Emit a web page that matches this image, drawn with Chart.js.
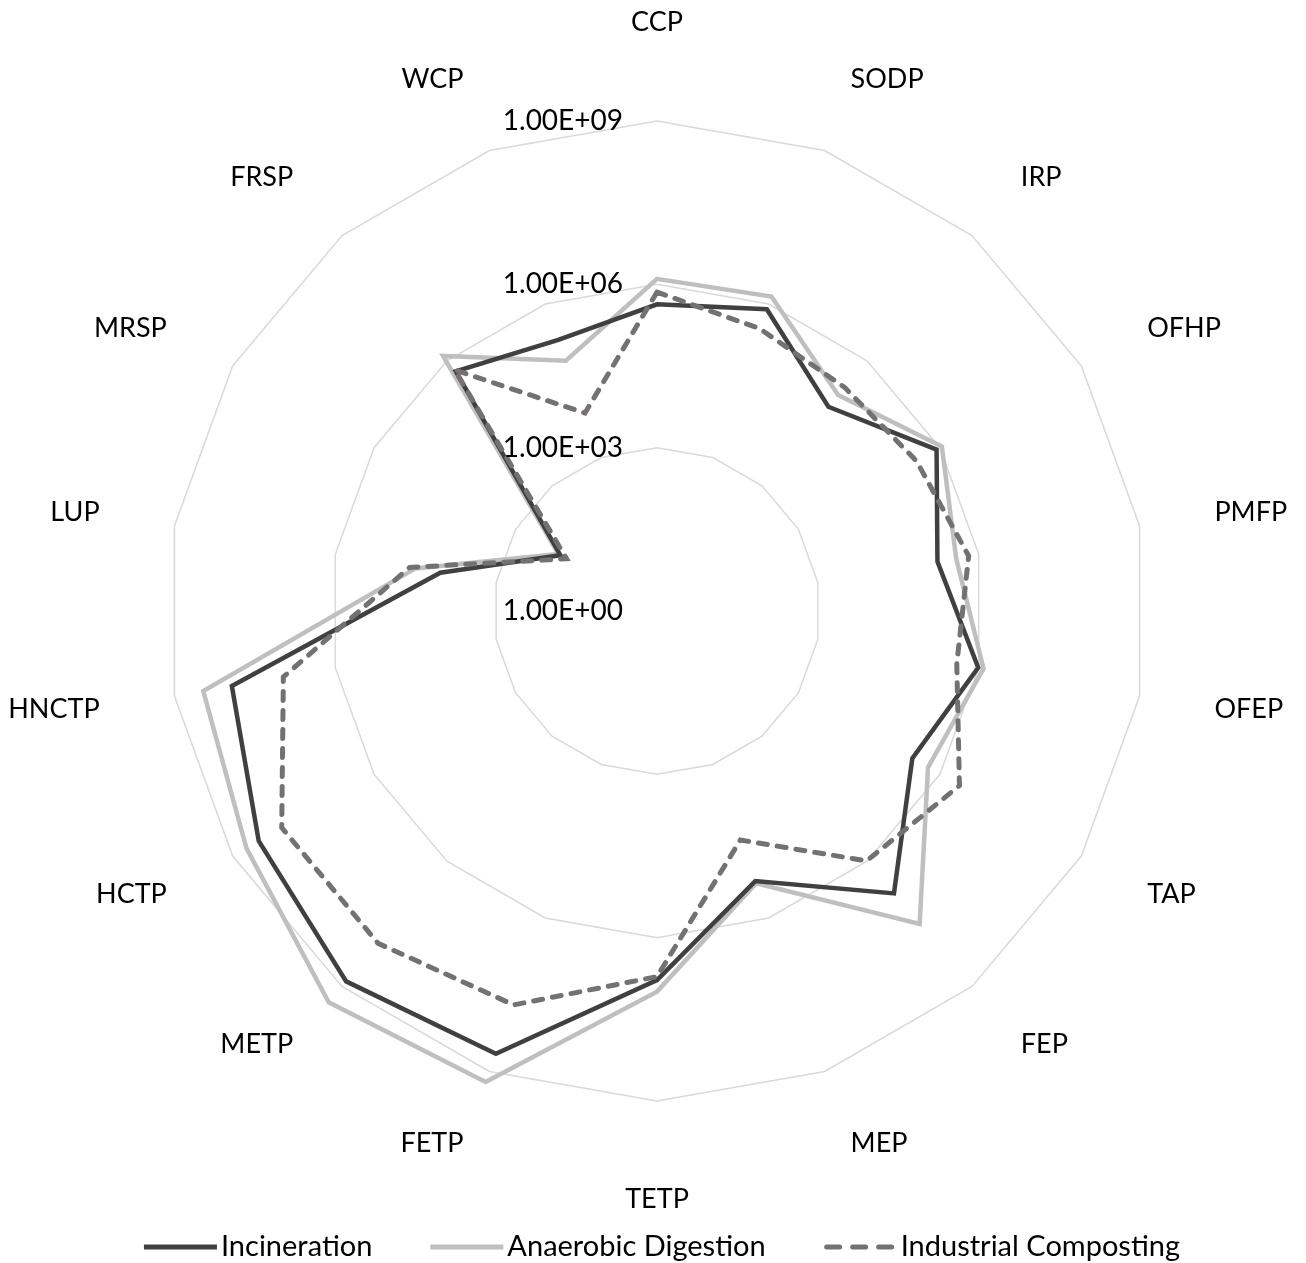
<!DOCTYPE html>
<html>
<head>
<meta charset="utf-8">
<script src="https://cdn.jsdelivr.net/npm/chart.js@4.4.1/dist/chart.umd.min.js"></script>
<style>
html,body{margin:0;padding:0;background:#ffffff;}
#wrap{width:1306px;height:1263px;position:relative;}
</style>
</head>
<body>
<div id="wrap"><canvas id="c" width="1306" height="1263"></canvas></div>
<script>
// ---- data (log-scaled radial axis) ----
const categories = ['CCP','SODP','IRP','OFHP','PMFP','OFEP','TAP','FEP','MEP','TETP','FETP','METP','HCTP','HNCTP','LUP','MRSP','FRSP','WCP'];
const seriesNames = ['Incineration','Anaerobic Digestion','Industrial Composting'];
const incineration = [4.3e5, 7.9e5, 7.9e4, 8.5e5, 1.7e5, 9.8e5, 2.6e5, 5.9e6, 1.9e5, 6.0e6, 4.5e8, 7.6e8, 2.8e8, 8.5e7, 1.1e4, 112, 5.6e5, 2.0e5];
const anaerobicDigestion = [1.26e6, 1.4e6, 1.5e5, 1.1e6, 3.8e5, 1.23e6, 5.6e5, 3.2e7, 2.1e5, 9.8e6, 1.6e9, 2.4e9, 5.1e8, 2.9e8, 3.2e4, 123, 1.3e6, 7.8e4];
const industrialComposting = [7.2e5, 3.3e5, 2.3e5, 3.2e5, 6.5e5, 3.9e5, 2.6e6, 9.8e5, 3.0e4, 5.2e6, 5.0e7, 9.3e7, 9.1e7, 9.3e6, 4.1e4, 83, 6.0e5, 7.4e3];
const tickValues = [1, 1e3, 1e6, 1e9];
const tickLabels = ['1.00E+00', '1.00E+03', '1.00E+06', '1.00E+09'];

const colors = ['#404040', '#bfbfbf', '#767171'];
const dashes = [[], [], [9, 10]];
const toLog = arr => arr.map(v => Math.log10(v));

const labelPlugin = {
  id: 'customLabels',
  afterDraw(chart) {
    const s = chart.scales.r;
    const ctx = chart.ctx;
    ctx.save();
    ctx.fillStyle = '#000000';
    // category labels
    ctx.font = '27px Lato';
    const n = categories.length;
    for (let i = 0; i < n; i++) {
      const deg = i * 360 / n;
      let d = s.drawingArea + 76, align;
      if (deg === 0) { d = s.drawingArea + 99; align = 'center'; }
      else if (deg === 180) { d = s.drawingArea + 98; align = 'center'; }
      else if (deg < 180) align = 'left';
      else align = 'right';
      const p = s.getPointPosition(i, d);
      ctx.textAlign = align;
      ctx.textBaseline = 'middle';
      ctx.fillText(categories[i], p.x, p.y);
    }
    // radial tick labels
    ctx.font = '28px Lato';
    ctx.textAlign = 'right';
    ctx.textBaseline = 'middle';
    tickValues.forEach((v, k) => {
      const y = s.yCenter - s.getDistanceFromCenterForValue(Math.log10(v));
      ctx.fillText(tickLabels[k], s.xCenter - 34, y);
    });
    // legend
    ctx.font = '29px Lato';
    const sample = 73, gapText = 4, gapItem = 58;
    const widths = seriesNames.map(t => ctx.measureText(t).width);
    const total = widths.reduce((a, w) => a + sample + gapText + w, 0) + gapItem * (seriesNames.length - 1);
    let x = 662 - total / 2;
    const y = 1247;
    chart.data.datasets.forEach((ds, k) => {
      ctx.save();
      ctx.strokeStyle = ds.borderColor;
      ctx.lineWidth = 5;
      ctx.lineCap = k === 2 ? 'round' : 'butt';
      ctx.setLineDash(k === 2 ? [13, 13] : []);
      ctx.beginPath();
      ctx.moveTo(x + (k === 2 ? 3 : 0), y);
      ctx.lineTo(x + sample, y);
      ctx.stroke();
      ctx.restore();
      ctx.textAlign = 'left';
      ctx.textBaseline = 'middle';
      ctx.fillStyle = '#000000';
      ctx.fillText(seriesNames[k], x + sample + gapText, y);
      x += sample + gapText + widths[k] + gapItem;
    });
    ctx.restore();
  }
};

const seriesData = [incineration, anaerobicDigestion, industrialComposting];
const orders = [1, 2, 0];
const widthsLine = [4.5, 4.5, 5];

new Chart(document.getElementById('c'), {
  type: 'radar',
  data: {
    labels: categories,
    datasets: seriesNames.map((name, k) => ({
      label: name,
      data: toLog(seriesData[k]),
      borderColor: colors[k],
      backgroundColor: 'transparent',
      borderWidth: widthsLine[k],
      borderDash: dashes[k],
      borderCapStyle: k === 2 ? 'round' : 'butt',
      borderJoinStyle: 'miter',
      pointRadius: 0,
      pointHoverRadius: 0,
      fill: false,
      tension: 0,
      order: orders[k],
      clip: false
    }))
  },
  options: {
    responsive: false,
    animation: false,
    devicePixelRatio: 1,
    layout: { padding: { left: 167, right: 159, top: 121, bottom: 162 } },
    plugins: { legend: { display: false }, tooltip: { enabled: false } },
    scales: {
      r: {
        min: 0,
        max: 9,
        beginAtZero: true,
        ticks: { display: false, stepSize: 3 },
        grid: { color: '#d9d9d9', lineWidth: 1.5 },
        angleLines: { display: false },
        pointLabels: { display: false }
      }
    }
  },
  plugins: [labelPlugin]
});
</script>
</body>
</html>
